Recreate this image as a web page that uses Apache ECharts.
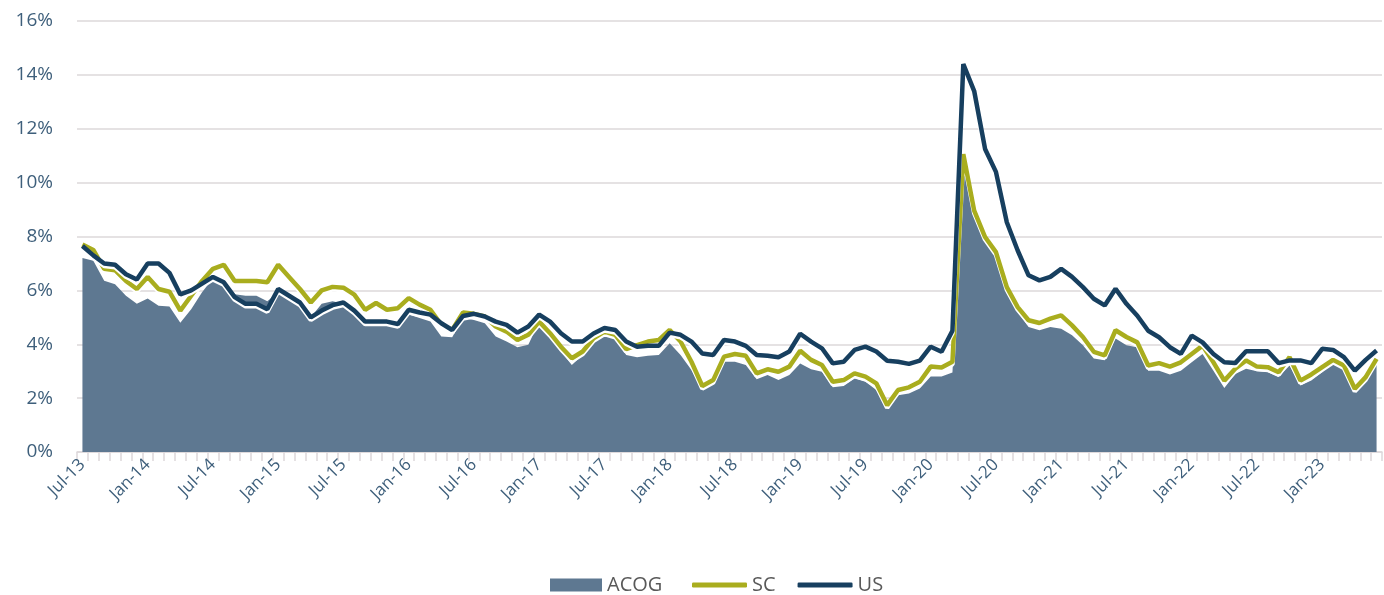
<!DOCTYPE html>
<html>
<head>
<meta charset="utf-8">
<script src="https://cdn.jsdelivr.net/npm/echarts@6/dist/echarts.min.js"></script>
<style>
  html, body { margin: 0; padding: 0; background: #fff; }
  #chart { width: 1384px; height: 595px; }
</style>
</head>
<body>
<div id="chart"></div>
<script>
// months Jul-13 .. Jun-23
const monthNames = ['Jan', 'Feb', 'Mar', 'Apr', 'May', 'Jun', 'Jul', 'Aug', 'Sep', 'Oct', 'Nov', 'Dec'];
const months = [];
for (let k = 0; k < 120; k++) {
  const m = (6 + k) % 12;
  const y = 13 + Math.floor((6 + k) / 12);
  months.push(monthNames[m] + '-' + y);
}

const acog = [
  7.2, 7.1, 6.36, 6.23, 5.8, 5.5, 5.7, 5.43, 5.4, 4.8, 5.3, 5.93,
  6.45, 6.3, 5.86, 5.8, 5.8, 5.6, 5.93, 5.74, 5.5, 5.0, 5.5, 5.6,
  5.5, 5.16, 4.72, 4.72, 4.72, 4.66, 5.1, 4.97, 4.84, 4.29, 4.26, 4.97,
  4.9, 4.78, 4.29, 4.1, 3.89, 3.98, 4.84, 4.35, 3.73, 3.23, 3.6, 4.16,
  4.47, 4.22, 3.6, 3.52, 3.57, 3.6, 4.04, 3.6, 3.04, 2.3, 2.61, 3.35,
  3.35, 3.23, 2.7, 2.86, 2.67, 2.86, 3.29, 3.07, 2.98, 2.4, 2.45, 2.73,
  2.61, 2.3, 1.61, 2.11, 2.17, 2.36, 2.8, 2.8, 2.95, 10.8, 8.84, 7.85,
  7.23, 5.88, 5.2, 4.64, 4.52, 4.64, 4.58, 4.33, 3.96, 3.47, 3.41, 4.21,
  3.96, 3.89, 3.02, 3.02, 2.88, 3.02, 3.33, 3.64, 3.02, 2.38, 2.9, 3.09,
  3.0, 2.96, 2.78, 3.21, 2.47, 2.65, 2.96, 3.33, 3.09, 2.28, 2.65, 3.4
];
const sc = [
  7.7, 7.5, 6.8, 6.75, 6.35, 6.05, 6.5, 6.05, 5.95, 5.25, 5.8, 6.35,
  6.8, 6.95, 6.35, 6.35, 6.35, 6.3, 6.95, 6.5, 6.05, 5.55, 6.0, 6.13,
  6.1, 5.84, 5.28, 5.53, 5.28, 5.34, 5.71, 5.47, 5.28, 4.72, 4.53, 5.18,
  5.13, 5.03, 4.66, 4.47, 4.16, 4.35, 4.84, 4.41, 3.91, 3.48, 3.73, 4.22,
  4.47, 4.35, 3.82, 3.97, 4.1, 4.16, 4.53, 4.1, 3.35, 2.45, 2.67, 3.54,
  3.64, 3.57, 2.92, 3.07, 2.98, 3.17, 3.76, 3.42, 3.23, 2.61, 2.67, 2.92,
  2.8, 2.55, 1.74, 2.3, 2.4, 2.61, 3.17, 3.14, 3.35, 11.06, 8.96, 7.98,
  7.42, 6.12, 5.38, 4.89, 4.79, 4.95, 5.07, 4.7, 4.27, 3.72, 3.59, 4.52,
  4.27, 4.07, 3.21, 3.3, 3.17, 3.33, 3.64, 3.95, 3.33, 2.65, 3.09, 3.4,
  3.17, 3.15, 2.96, 3.52, 2.65, 2.88, 3.15, 3.42, 3.21, 2.35, 2.78, 3.46
];
const us = [
  7.65, 7.3, 7.0, 6.95, 6.6, 6.4, 7.0, 7.0, 6.65, 5.85, 6.0, 6.25,
  6.5, 6.3, 5.75, 5.5, 5.5, 5.3, 6.05, 5.8, 5.55, 5.0, 5.25, 5.45,
  5.55, 5.25, 4.84, 4.84, 4.84, 4.75, 5.28, 5.18, 5.1, 4.78, 4.53, 5.05,
  5.13, 5.03, 4.84, 4.72, 4.43, 4.66, 5.1, 4.84, 4.41, 4.1, 4.1, 4.4,
  4.6, 4.53, 4.1, 3.91, 3.94, 3.94, 4.43, 4.35, 4.1, 3.66, 3.6, 4.16,
  4.1, 3.94, 3.6, 3.57, 3.52, 3.73, 4.39, 4.1, 3.85, 3.29, 3.35, 3.79,
  3.91, 3.73, 3.39, 3.35, 3.27, 3.39, 3.91, 3.72, 4.5, 14.4, 13.4, 11.25,
  10.4, 8.53, 7.48, 6.56, 6.37, 6.5, 6.8, 6.5, 6.12, 5.69, 5.44, 6.06,
  5.5, 5.06, 4.5, 4.26, 3.89, 3.64, 4.32, 4.07, 3.64, 3.33, 3.3, 3.74,
  3.74, 3.74, 3.3, 3.4, 3.4, 3.3, 3.83, 3.79, 3.52, 3.02, 3.42, 3.77
];

const labelColor = '#3e5f7b';
const gridColor = '#ddd8da';
const fontFam = '"Open Sans", "Noto Sans", sans-serif';
const legendText = { color: '#595959', fontSize: 20, fontFamily: fontFam };

const chart = echarts.init(document.getElementById('chart'));
chart.setOption({
  backgroundColor: '#ffffff',
  animation: false,
  grid: { left: 77, right: 2, top: 21, bottom: 143 },
  // two legends: block icon for the area, plain bars for the lines
  legend: [
    {
      left: 545,
      top: 570,
      itemWidth: 52,
      itemHeight: 13,
      textStyle: legendText,
      data: [{ name: 'ACOG', icon: 'rect' }]
    },
    {
      left: 687,
      top: 570,
      itemWidth: 55,
      itemHeight: 5,
      itemGap: 22,
      textStyle: legendText,
      data: [{ name: 'SC', icon: 'roundRect' }, { name: 'US', icon: 'roundRect' }]
    }
  ],
  xAxis: {
    type: 'category',
    boundaryGap: true,
    data: months,
    axisLine: { lineStyle: { color: gridColor, width: 1.5 } },
    axisTick: { show: true, interval: 0, length: 9, lineStyle: { color: gridColor, width: 1.5 } },
    axisLabel: {
      interval: 5,
      rotate: 45,
      margin: 10,
      color: labelColor,
      fontSize: 17,
      fontFamily: fontFam
    },
    splitLine: { show: false }
  },
  yAxis: {
    type: 'value',
    min: 0,
    max: 16,
    interval: 2,
    axisLine: { show: false },
    axisTick: { show: false },
    axisLabel: {
      formatter: '{value}%',
      color: labelColor,
      fontSize: 19,
      fontFamily: fontFam,
      margin: 24
    },
    splitLine: { lineStyle: { color: gridColor, width: 1.5 } }
  },
  series: [
    {
      name: 'ACOG',
      type: 'line',
      data: acog,
      symbol: 'none',
      itemStyle: { color: '#5e7891' },
      lineStyle: { width: 0 },
      areaStyle: { color: '#5e7891', opacity: 1 },
      z: 1
    },
    {
      name: 'SC',
      type: 'line',
      data: sc,
      symbol: 'none',
      itemStyle: { color: '#a9ad1e' },
      lineStyle: { width: 4.5, color: '#a9ad1e', shadowColor: '#ffffff', shadowBlur: 0, shadowOffsetY: 2.5 },
      z: 2
    },
    {
      name: 'US',
      type: 'line',
      data: us,
      symbol: 'none',
      itemStyle: { color: '#173f5f' },
      lineStyle: { width: 4.5, color: '#173f5f', shadowColor: '#ffffff', shadowBlur: 0, shadowOffsetY: 2.5 },
      z: 3
    }
  ]
});
</script>
</body>
</html>
